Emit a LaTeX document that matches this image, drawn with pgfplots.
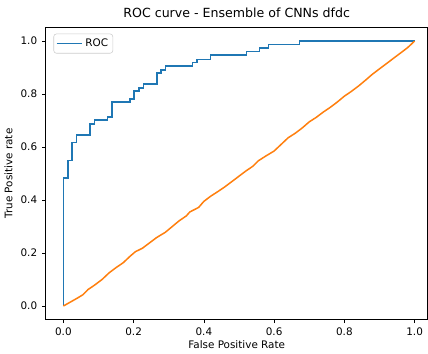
\documentclass[border=0pt]{standalone}
\usepackage{pgfplots}
\pgfplotsset{compat=1.18}
\usepackage{fontspec}
\setmainfont{DejaVu Sans}
\definecolor{mblue}{HTML}{1F77B4}
\definecolor{morange}{HTML}{FF7F0E}
\begin{document}
\begin{tikzpicture}
\begin{axis}[
  scale only axis,
  width=279pt, height=213pt,
  xmin=-0.05, xmax=1.037, ymin=-0.05, ymax=1.05,
  xtick={0,0.2,0.4,0.6,0.8,1.0},
  ytick={0,0.2,0.4,0.6,0.8,1.0},
  xticklabel style={/pgf/number format/.cd,fixed,fixed zerofill,precision=1},
  yticklabel style={/pgf/number format/.cd,fixed,fixed zerofill,precision=1},
  /pgf/number format/assume math mode=true,
  tick align=outside, xtick pos=bottom, ytick pos=left,
  major tick length=2.8pt,
  tick style={black, line width=0.5pt},
  axis line style={line width=0.6pt},
  ticklabel style={font=\fontsize{7.6}{9}\selectfont},
  title={ROC curve - Ensemble of CNNs dfdc},
  title style={font=\fontsize{9.2}{11}\selectfont, inner ysep=6pt, yshift=-5pt},
  xlabel={False Positive Rate},
  ylabel={True Positive rate},
  label style={font=\fontsize{7.6}{9}\selectfont},
  xlabel style={yshift=3pt},
  ylabel style={yshift=-1pt},
  legend style={at={(0.02,0.98)}, anchor=north west, font=\fontsize{7.6}{9}\selectfont, draw=black!20, rounded corners=2pt, inner sep=1.5pt},
  legend cell align=left,
  legend image code/.code={\draw[mblue, line width=1.1pt] (0cm,0cm) -- (0.65cm,0cm);},
]
\addplot[mblue, line width=1.1pt, mark=none] coordinates {
(0,0) (0,0.483) (0.0135,0.483) (0.0135,0.549) (0.025,0.549) (0.025,0.618)
(0.038,0.618) (0.038,0.645) (0.076,0.645) (0.076,0.686) (0.088,0.686)
(0.088,0.702) (0.126,0.702) (0.126,0.713) (0.138,0.713) (0.138,0.770)
(0.189,0.770) (0.189,0.782) (0.201,0.782) (0.201,0.812) (0.215,0.812)
(0.215,0.823) (0.228,0.823) (0.228,0.837) (0.266,0.837) (0.266,0.880)
(0.278,0.880) (0.278,0.890) (0.291,0.890) (0.291,0.906) (0.368,0.906)
(0.368,0.919) (0.380,0.919) (0.380,0.931) (0.419,0.931) (0.419,0.947)
(0.521,0.947) (0.521,0.960) (0.559,0.960) (0.559,0.974) (0.584,0.974)
(0.584,0.987) (0.672,0.987) (0.672,1.0) (1.0,1.0)
};
\addlegendentry{ROC}
\addplot[morange, line width=1.1pt, mark=none, forget plot] coordinates {
(0,0) (0.02,0.015) (0.04,0.03) (0.055,0.042) (0.07,0.062) (0.09,0.08)
(0.11,0.10) (0.13,0.125) (0.15,0.145) (0.17,0.163) (0.19,0.188) (0.205,0.205)
(0.225,0.218) (0.245,0.238) (0.265,0.258) (0.29,0.278) (0.31,0.30) (0.33,0.322)
(0.35,0.34) (0.36,0.355) (0.385,0.372) (0.40,0.395) (0.42,0.415) (0.44,0.432)
(0.46,0.45) (0.48,0.47) (0.50,0.49) (0.52,0.51) (0.54,0.528) (0.555,0.548)
(0.575,0.565) (0.60,0.585) (0.62,0.61) (0.64,0.635) (0.66,0.652) (0.68,0.672)
(0.70,0.695) (0.72,0.712) (0.74,0.732) (0.76,0.75) (0.78,0.77) (0.80,0.792)
(0.82,0.81) (0.84,0.83) (0.86,0.852) (0.88,0.875) (0.90,0.895) (0.92,0.915)
(0.94,0.935) (0.96,0.955) (0.98,0.975) (1.0,1.0)
};
\end{axis}
\end{tikzpicture}
\end{document}
